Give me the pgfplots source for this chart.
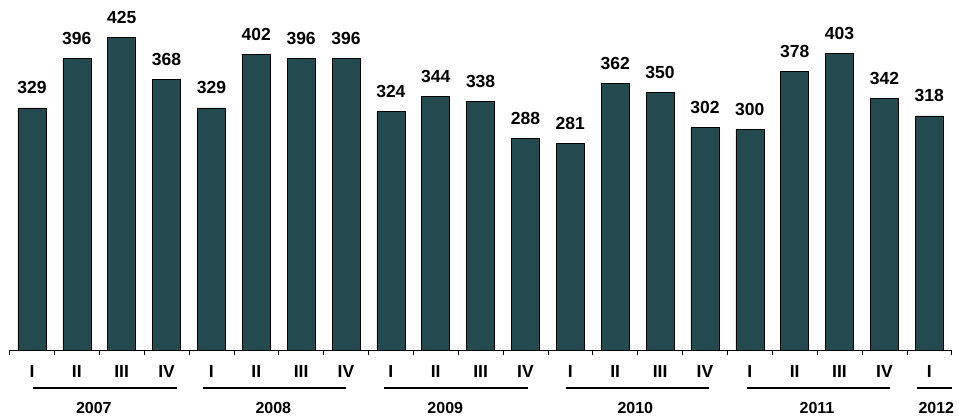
\documentclass[border=0pt]{standalone}
\usepackage{pgfplots}
\pgfplotsset{compat=1.18}
\usepackage{fontspec}
\setmainfont{Liberation Sans}
\definecolor{barc}{RGB}{35,74,79}
\begin{document}
\begin{tikzpicture}[x=1pt,y=1pt]
\useasboundingbox (-9.5,-70) rectangle (949.5,350);
\begin{axis}[
  at={(0,0)}, anchor=south west,
  scale only axis, width=942.2pt, height=350pt,
  xmin=-0.5, xmax=20.5, ymin=0, ymax=475.5,
  clip=false,
  /pgf/number format/assume math mode=true,
  axis x line*=bottom, axis y line=none,
  x axis line style={-, black, line width=0.9pt},
  ybar, bar width=28pt,
  xtick={0,...,20},
  xticklabels={I,II,III,IV,I,II,III,IV,I,II,III,IV,I,II,III,IV,I,II,III,IV,I},
  major tick length=0pt,
  xticklabel style={anchor=base, yshift=-28pt, inner sep=0pt, font=\bfseries\fontsize{17.5}{17.5}\selectfont},
  extra x ticks={-0.5,0.5,...,20.5},
  extra x tick labels={},
  extra x tick style={major tick length=5pt, tick align=outside, tick style={black, line width=0.6pt}},
  nodes near coords,
  nodes near coords style={font=\bfseries\fontsize{17.5}{17.5}\selectfont, black, anchor=south, inner sep=0pt, yshift=13.5pt},
]
\addplot[fill=barc, draw=black, line width=0.6pt] coordinates {
(0,329) (1,396) (2,425) (3,368)
(4,329) (5,402) (6,396) (7,396)
(8,324) (9,344) (10,338) (11,288)
(12,281) (13,362) (14,350) (15,302)
(16,300) (17,378) (18,403) (19,342)
(20,318)};
\draw[line width=1.8pt] ([yshift=-38pt]axis cs:0.024,0) -- ([yshift=-38pt]axis cs:3.233,0);
\draw[line width=1.8pt] ([yshift=-38pt]axis cs:3.813,0) -- ([yshift=-38pt]axis cs:6.999,0);
\draw[line width=1.8pt] ([yshift=-38pt]axis cs:7.847,0) -- ([yshift=-38pt]axis cs:11.056,0);
\draw[line width=1.8pt] ([yshift=-38pt]axis cs:11.903,0) -- ([yshift=-38pt]axis cs:15.09,0);
\draw[line width=1.8pt] ([yshift=-38pt]axis cs:15.937,0) -- ([yshift=-38pt]axis cs:19.124,0);
\draw[line width=1.8pt] ([yshift=-38pt]axis cs:19.726,0) -- ([yshift=-38pt]axis cs:20.507,0);
\tikzset{yr/.style={font=\bfseries\fontsize{16}{16}\selectfont, anchor=center, inner sep=0pt}}
\node[yr] at ([yshift=-58pt]axis cs:1.379,0) {2007};
\node[yr] at ([yshift=-58pt]axis cs:5.380,0) {2008};
\node[yr] at ([yshift=-58pt]axis cs:9.213,0) {2009};
\node[yr] at ([yshift=-58pt]axis cs:13.448,0) {2010};
\node[yr] at ([yshift=-58pt]axis cs:17.497,0) {2011};
\node[yr] at ([yshift=-58pt]axis cs:20.157,0) {2012};
\end{axis}
\end{tikzpicture}
\end{document}
